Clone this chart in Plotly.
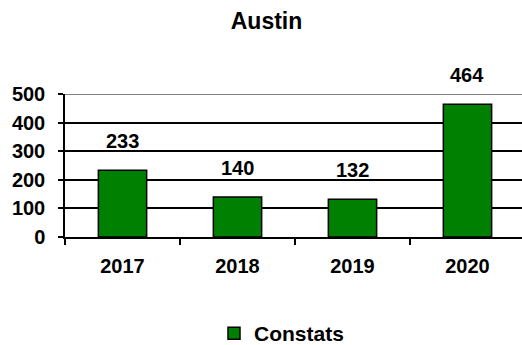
import plotly.graph_objects as go

# Yearly counts for Austin
years = ["2017", "2018", "2019", "2020"]
constats = [233, 140, 132, 464]
y_ticks = [0, 100, 200, 300, 400, 500]

FONT = "Arial, Liberation Sans, sans-serif"
GREEN = "#008000"

fig = go.Figure()
fig.add_trace(go.Bar(
    x=years,
    y=constats,
    name="Constats",
    marker=dict(color=GREEN, line=dict(color="black", width=1.5)),
    hoverinfo="x+y",
))

# value labels sitting above each bar (x given as category index)
for i, v in enumerate(constats):
    fig.add_annotation(
        x=i, y=v, text=f"<b>{v}</b>", showarrow=False,
        xref="x", yref="y",
        yanchor="bottom", yshift=16,
        font=dict(family=FONT, size=20, color="black"),
    )

# grey top border of the plotting area
fig.add_shape(type="line", xref="paper", yref="y", x0=0, x1=1, y0=500, y1=500,
              line=dict(color="#808080", width=2), layer="above")

fig.update_layout(
    width=522, height=345,
    margin=dict(l=65, r=0, t=94, b=108),
    paper_bgcolor="white", plot_bgcolor="white",
    title=dict(text="<b>Austin</b>", x=266.5 / 522, xref="container",
               y=1 - 21 / 345, yref="container", xanchor="center", yanchor="middle",
               font=dict(family=FONT, size=23, color="black")),
    bargap=0.58,
    showlegend=True,
    legend=dict(orientation="h", xref="container", yref="container",
                x=214 / 522, xanchor="left", y=1 - 333.5 / 345, yanchor="middle",
                font=dict(family=FONT, size=21, color="black", weight="bold"),
                bgcolor="rgba(0,0,0,0)"),
    xaxis=dict(
        type="category", range=[-0.5, 3.474], showgrid=False,
        showline=True, linecolor="black", linewidth=1.5,
        ticks="outside", tickson="boundaries", ticklen=6, tickcolor="black", tickwidth=1.5,
        ticklabelstandoff=10,
        tickfont=dict(family=FONT, size=20, color="black", weight="bold"),
    ),
    yaxis=dict(
        range=[0, 500], tickvals=y_ticks, showgrid=True, gridcolor="black", gridwidth=1.5,
        zeroline=False, showline=True, linecolor="black", linewidth=1.5,
        ticks="outside", ticklen=5, tickcolor="black", tickwidth=1.5,
        ticklabelstandoff=9,
        tickfont=dict(family=FONT, size=20, color="black", weight="bold"),
    ),
)

fig.write_html("out.html")
